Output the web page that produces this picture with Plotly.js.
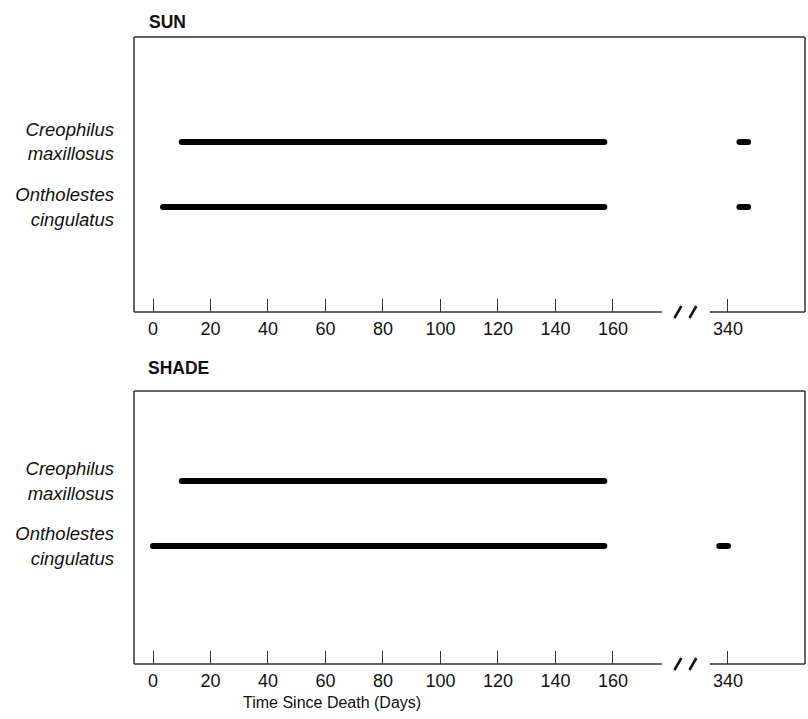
<!DOCTYPE html>
<html><head><meta charset="utf-8">
<script src="https://cdn.plot.ly/plotly-3.0.1.min.js"></script>
<style>body{margin:0;background:#fff}</style>
</head><body><div id="chart" style="width:808px;height:719px"></div>
<script>
// ---- data ----
const speciesLabels = ['Creophilus<br>maxillosus', 'Ontholestes<br>cingulatus'];
const speciesPos = [2, 1];
const sunCreophilus = [[10, 157], [344, 347]];
const sunOntholestes = [[3.5, 157], [344, 347]];
const shadeCreophilus = [[10, 157]];
const shadeOntholestes = [[0, 157], [337, 340]];
const tickDays = [0, 20, 40, 60, 80, 100, 120, 140, 160, 340];
const panelTitles = ['SUN', 'SHADE'];
const xTitle = 'Time Since Death (Days)';

// axis break: days after the break are shifted left
const breakAfter = 170, breakShift = 140;
function disp(d) { return d > breakAfter ? d - breakShift : d; }

const FONT = 'Liberation Sans, Arial, sans-serif';
const AX = '#333';

const traces = [];
function addSegments(segs, yval, xa, ya) {
  segs.forEach(s => {
    traces.push({
      x: s.map(disp), y: [yval, yval], xaxis: xa, yaxis: ya,
      mode: 'lines+markers', line: {color: '#000', width: 6},
      marker: {color: '#000', size: 6}, showlegend: false, hoverinfo: 'skip'
    });
  });
}
addSegments(sunCreophilus, speciesPos[0], 'x', 'y');
addSegments(sunOntholestes, speciesPos[1], 'x', 'y');
addSegments(shadeCreophilus, speciesPos[0], 'x2', 'y2');
addSegments(shadeOntholestes, speciesPos[1], 'x2', 'y2');

const xRange = [-6.61, 226.8];
const gapStart = 177.0, gapEnd = 193.7, breakMid = 185.2;

function xax(anchor) {
  return {
    range: xRange, anchor: anchor, showgrid: false, zeroline: false, showline: false,
    ticks: 'inside', ticklen: 13, tickwidth: 1, tickcolor: AX,
    tickmode: 'array', tickvals: tickDays.map(disp), ticktext: tickDays.map(String),
    ticklabelstandoff: 4,
    tickfont: {family: FONT, size: 18, color: '#111'}, fixedrange: true
  };
}
function yax(anchor, domain, range) {
  return {
    domain: domain, range: range, anchor: anchor, showgrid: false, zeroline: false,
    showline: false, ticks: '', tickmode: 'array', tickvals: speciesPos, ticktext: speciesLabels,
    ticklabelstandoff: 19,
    tickfont: {family: FONT, size: 18.5, color: '#111', style: 'italic'}, fixedrange: true
  };
}

const shapes = [];
function frame(yref, xref) {
  const ln = {color: AX, width: 1.5};
  const dom = yref + ' domain', xdom = xref + ' domain';
  shapes.push({type: 'line', xref: xdom, yref: dom, x0: 0, x1: 1, y0: 1, y1: 1, line: ln});
  shapes.push({type: 'line', xref: xdom, yref: dom, x0: 0, x1: 0, y0: 0, y1: 1, line: ln});
  shapes.push({type: 'line', xref: xdom, yref: dom, x0: 1, x1: 1, y0: 0, y1: 1, line: ln});
  shapes.push({type: 'line', xref: xref, yref: dom, x0: xRange[0], x1: gapStart, y0: 0, y1: 0, line: ln});
  shapes.push({type: 'line', xref: xref, yref: dom, x0: gapEnd, x1: xRange[1], y0: 0, y1: 0, line: ln});
  [[-11, -4], [4, 11]].forEach(p => {
    shapes.push({type: 'line', xref: xref, yref: dom, xsizemode: 'pixel', ysizemode: 'pixel',
      xanchor: breakMid, yanchor: 0, x0: p[0], x1: p[1], y0: -6, y1: 6,
      line: {color: '#111', width: 2.5}});
  });
}
frame('y', 'x');
frame('y2', 'x2');

const layout = {
  width: 808, height: 719, paper_bgcolor: '#fff', plot_bgcolor: '#fff',
  margin: {l: 134, r: 3, t: 37, b: 55},
  font: {family: FONT, color: '#111'},
  xaxis: xax('y'), yaxis: yax('x', [0.5614, 1], [-0.615, 3.615]),
  xaxis2: xax('y2'), yaxis2: yax('x2', [0, 0.4354], [-0.815, 3.385]),
  shapes: shapes,
  annotations: [
    {text: '<b>' + panelTitles[0] + '</b>', xref: 'paper', yref: 'paper', x: 0.0194, y: 1,
     xanchor: 'left', yanchor: 'middle', yshift: 15, showarrow: false, font: {family: FONT, size: 17.5, color: '#111'}},
    {text: '<b>' + panelTitles[1] + '</b>', xref: 'paper', yref: 'paper', x: 0.0179, y: 0.4354,
     xanchor: 'left', yanchor: 'middle', yshift: 23, showarrow: false, font: {family: FONT, size: 17.5, color: '#111'}},
    {text: xTitle, xref: 'paper', yref: 'paper', x: 0.295, y: 0, xanchor: 'center', yanchor: 'middle',
     yshift: -38, showarrow: false, font: {family: FONT, size: 16, color: '#111'}}
  ]
};

Plotly.newPlot('chart', traces, layout, {displayModeBar: false, staticPlot: true});
</script></body></html>
